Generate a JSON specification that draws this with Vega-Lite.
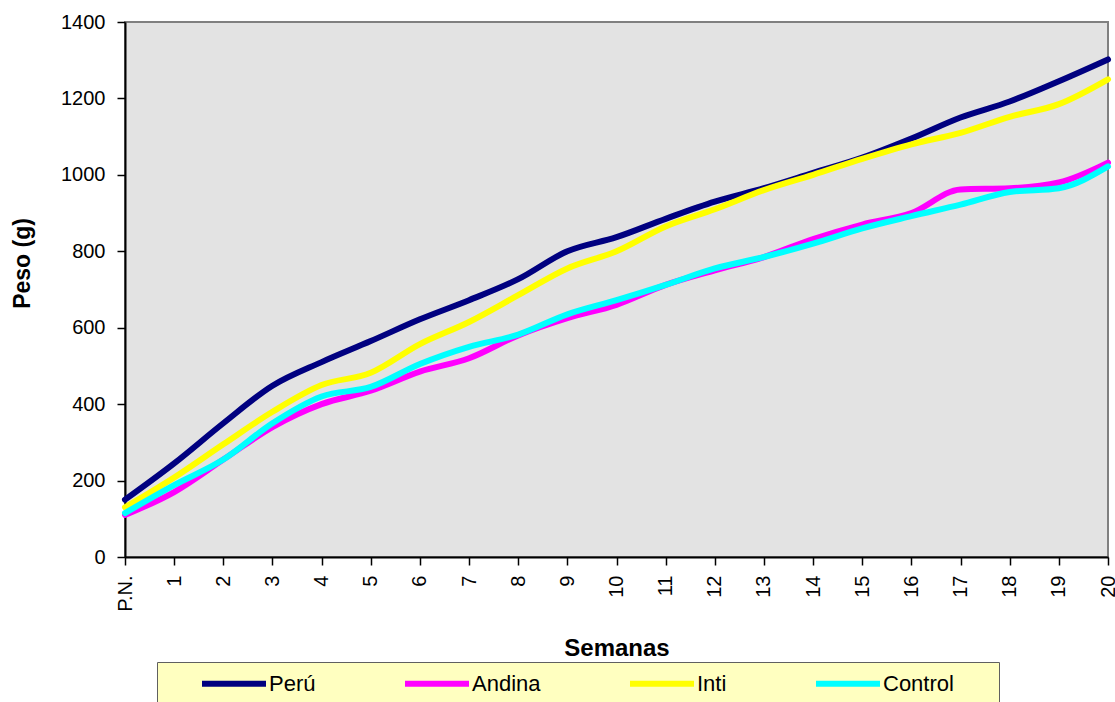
{
  "$schema": "https://vega.github.io/schema/vega-lite/v6.json",
  "width": 983,
  "height": 535,
  "autosize": "none",
  "padding": {"left": 125, "top": 22, "right": 7, "bottom": 145},
  "background": "#ffffff",
  "config": {
    "font": "Liberation Sans",
    "view": {"fill": "#e3e3e3", "stroke": "#808080", "strokeWidth": 2}
  },
  "data": {
    "values": [
      {"semana": "P.N.", "serie": "Perú", "peso": 150},
      {"semana": "1", "serie": "Perú", "peso": 245},
      {"semana": "2", "serie": "Perú", "peso": 350},
      {"semana": "3", "serie": "Perú", "peso": 448},
      {"semana": "4", "serie": "Perú", "peso": 510},
      {"semana": "5", "serie": "Perú", "peso": 565},
      {"semana": "6", "serie": "Perú", "peso": 622},
      {"semana": "7", "serie": "Perú", "peso": 672},
      {"semana": "8", "serie": "Perú", "peso": 727},
      {"semana": "9", "serie": "Perú", "peso": 800},
      {"semana": "10", "serie": "Perú", "peso": 837},
      {"semana": "11", "serie": "Perú", "peso": 885},
      {"semana": "12", "serie": "Perú", "peso": 930},
      {"semana": "13", "serie": "Perú", "peso": 965},
      {"semana": "14", "serie": "Perú", "peso": 1005},
      {"semana": "15", "serie": "Perú", "peso": 1045},
      {"semana": "16", "serie": "Perú", "peso": 1095},
      {"semana": "17", "serie": "Perú", "peso": 1150},
      {"semana": "18", "serie": "Perú", "peso": 1192},
      {"semana": "19", "serie": "Perú", "peso": 1245},
      {"semana": "20", "serie": "Perú", "peso": 1302},
      {"semana": "P.N.", "serie": "Andina", "peso": 110},
      {"semana": "1", "serie": "Andina", "peso": 170},
      {"semana": "2", "serie": "Andina", "peso": 255},
      {"semana": "3", "serie": "Andina", "peso": 340},
      {"semana": "4", "serie": "Andina", "peso": 400},
      {"semana": "5", "serie": "Andina", "peso": 435},
      {"semana": "6", "serie": "Andina", "peso": 485},
      {"semana": "7", "serie": "Andina", "peso": 520},
      {"semana": "8", "serie": "Andina", "peso": 580},
      {"semana": "9", "serie": "Andina", "peso": 625},
      {"semana": "10", "serie": "Andina", "peso": 660},
      {"semana": "11", "serie": "Andina", "peso": 712},
      {"semana": "12", "serie": "Andina", "peso": 750},
      {"semana": "13", "serie": "Andina", "peso": 785},
      {"semana": "14", "serie": "Andina", "peso": 832},
      {"semana": "15", "serie": "Andina", "peso": 870},
      {"semana": "16", "serie": "Andina", "peso": 900},
      {"semana": "17", "serie": "Andina", "peso": 962},
      {"semana": "18", "serie": "Andina", "peso": 965},
      {"semana": "19", "serie": "Andina", "peso": 980},
      {"semana": "20", "serie": "Andina", "peso": 1032},
      {"semana": "P.N.", "serie": "Inti", "peso": 130},
      {"semana": "1", "serie": "Inti", "peso": 208},
      {"semana": "2", "serie": "Inti", "peso": 295},
      {"semana": "3", "serie": "Inti", "peso": 380},
      {"semana": "4", "serie": "Inti", "peso": 450},
      {"semana": "5", "serie": "Inti", "peso": 482},
      {"semana": "6", "serie": "Inti", "peso": 557},
      {"semana": "7", "serie": "Inti", "peso": 615},
      {"semana": "8", "serie": "Inti", "peso": 685},
      {"semana": "9", "serie": "Inti", "peso": 755},
      {"semana": "10", "serie": "Inti", "peso": 800},
      {"semana": "11", "serie": "Inti", "peso": 865},
      {"semana": "12", "serie": "Inti", "peso": 910},
      {"semana": "13", "serie": "Inti", "peso": 960},
      {"semana": "14", "serie": "Inti", "peso": 1000},
      {"semana": "15", "serie": "Inti", "peso": 1042},
      {"semana": "16", "serie": "Inti", "peso": 1080},
      {"semana": "17", "serie": "Inti", "peso": 1110},
      {"semana": "18", "serie": "Inti", "peso": 1152},
      {"semana": "19", "serie": "Inti", "peso": 1185},
      {"semana": "20", "serie": "Inti", "peso": 1250},
      {"semana": "P.N.", "serie": "Control", "peso": 115},
      {"semana": "1", "serie": "Control", "peso": 188},
      {"semana": "2", "serie": "Control", "peso": 255},
      {"semana": "3", "serie": "Control", "peso": 350},
      {"semana": "4", "serie": "Control", "peso": 420},
      {"semana": "5", "serie": "Control", "peso": 445},
      {"semana": "6", "serie": "Control", "peso": 505},
      {"semana": "7", "serie": "Control", "peso": 550},
      {"semana": "8", "serie": "Control", "peso": 582},
      {"semana": "9", "serie": "Control", "peso": 635},
      {"semana": "10", "serie": "Control", "peso": 672},
      {"semana": "11", "serie": "Control", "peso": 712},
      {"semana": "12", "serie": "Control", "peso": 755},
      {"semana": "13", "serie": "Control", "peso": 785},
      {"semana": "14", "serie": "Control", "peso": 820},
      {"semana": "15", "serie": "Control", "peso": 860},
      {"semana": "16", "serie": "Control", "peso": 892},
      {"semana": "17", "serie": "Control", "peso": 922},
      {"semana": "18", "serie": "Control", "peso": 955},
      {"semana": "19", "serie": "Control", "peso": 965},
      {"semana": "20", "serie": "Control", "peso": 1022}
    ]
  },
  "mark": {"type": "line", "interpolate": "monotone", "strokeWidth": 6, "strokeCap": "round"},
  "encoding": {
    "x": {
      "field": "semana",
      "type": "ordinal",
      "sort": ["P.N.", "1", "2", "3", "4", "5", "6", "7", "8", "9", "10", "11", "12", "13", "14", "15", "16", "17", "18", "19", "20"],
      "scale": {"type": "point", "padding": 0},
      "axis": {
        "title": "Semanas",
        "titleFontSize": 24,
        "titleFontWeight": "bold",
        "titleColor": "#000000",
        "titleY": 91,
        "titleBaseline": "middle",
        "labelAngle": -90,
        "labelFontSize": 20,
        "labelColor": "#000000",
        "labelPadding": 10,
        "labelAlign": "right",
        "labelBaseline": "middle",
        "domainColor": "#000000",
        "domainWidth": 2,
        "tickColor": "#000000",
        "tickWidth": 1.5,
        "tickSize": 8,
        "grid": false
      }
    },
    "y": {
      "field": "peso",
      "type": "quantitative",
      "scale": {"domain": [0, 1400]},
      "axis": {
        "title": "Peso (g)",
        "titleFontSize": 23,
        "titleFontWeight": "bold",
        "titleColor": "#000000",
        "titleX": -103,
        "titleY": 241,
        "titleAlign": "center",
        "titleBaseline": "middle",
        "values": [0, 200, 400, 600, 800, 1000, 1200, 1400],
        "format": "d",
        "labelFontSize": 20,
        "labelColor": "#000000",
        "labelPadding": 12,
        "domainColor": "#000000",
        "domainWidth": 2,
        "tickColor": "#000000",
        "tickWidth": 1.5,
        "tickSize": 8,
        "grid": false
      }
    },
    "color": {
      "field": "serie",
      "type": "nominal",
      "sort": ["Perú", "Andina", "Inti", "Control"],
      "scale": {"domain": ["Perú", "Andina", "Inti", "Control"], "range": ["#000080", "#ff00ff", "#ffff00", "#00ffff"]},
      "legend": {
        "title": "\u00a0",
        "titleOrient": "right",
        "titleFontSize": 10,
        "titlePadding": 39,
        "orient": "none",
        "legendX": 32,
        "legendY": 640,
        "direction": "horizontal",
        "columns": 4,
        "gridAlign": "each",
        "columnPadding": 50,
        "padding": 6,
        "fillColor": "#ffffc0",
        "strokeColor": "#606060",
        "symbolType": "M1.88,0H7",
        "symbolSize": 625,
        "symbolStrokeWidth": 6,
        "labelFontSize": 22,
        "labelColor": "#000000",
        "labelOffset": 75
      }
    }
  }
}
